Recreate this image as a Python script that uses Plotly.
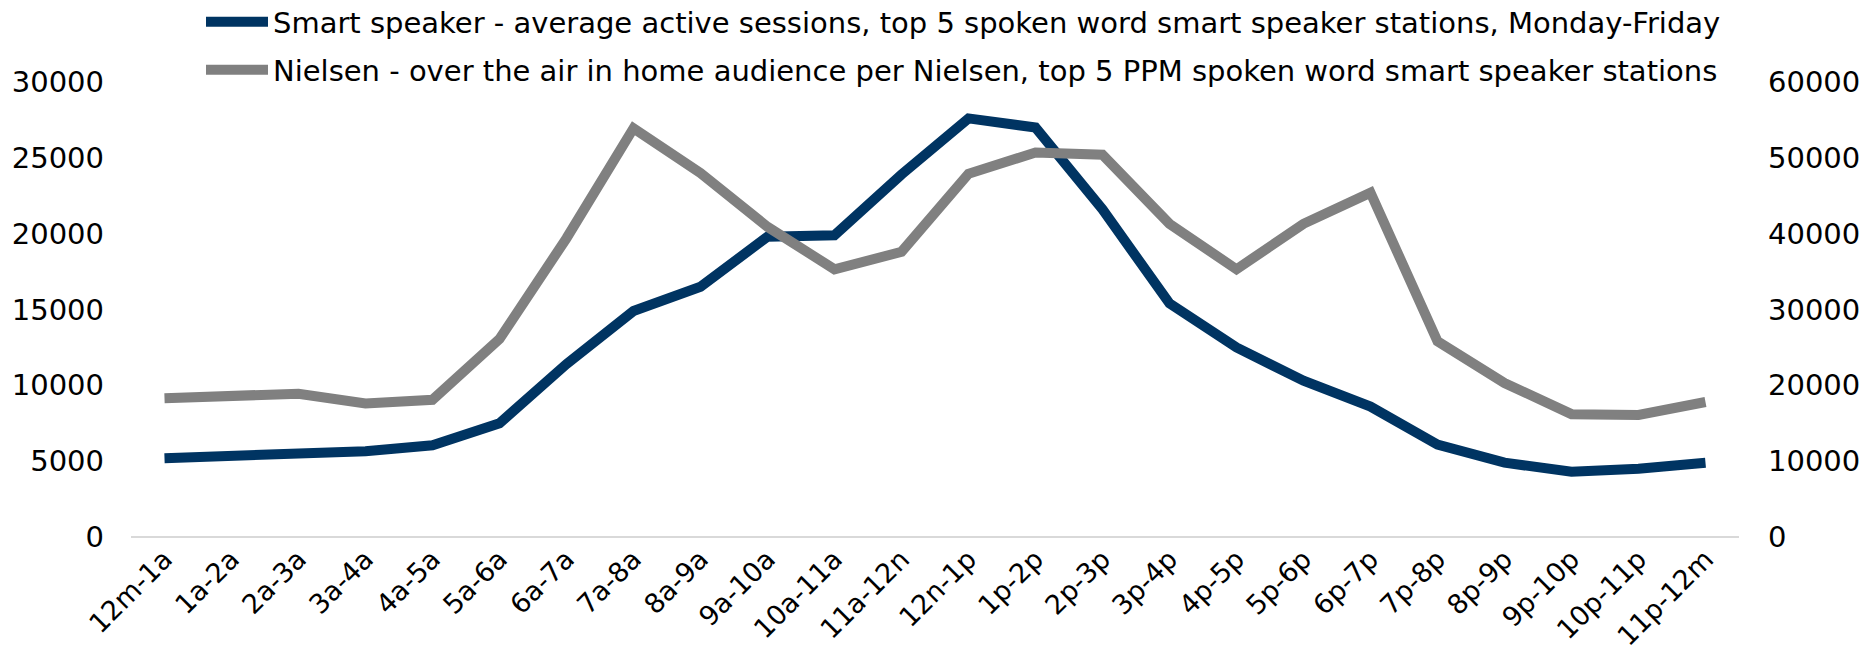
import plotly.graph_objects as go

categories = ["12m-1a", "1a-2a", "2a-3a", "3a-4a", "4a-5a", "5a-6a", "6a-7a", "7a-8a",
              "8a-9a", "9a-10a", "10a-11a", "11a-12n", "12n-1p", "1p-2p", "2p-3p", "3p-4p",
              "4p-5p", "5p-6p", "6p-7p", "7p-8p", "8p-9p", "9p-10p", "10p-11p", "11p-12m"]

smart_speaker = [5200, 5400, 5450, 5650, 6050, 7500, 11400, 14900, 16500, 19800, 19900, 23900,
                 27600, 27000, 21600, 15400, 12500, 10300, 8600, 6100, 4900, 4300, 4500, 4900]

nielsen = [18300, 18700, 18900, 17600, 18100, 26100, 39400, 53900, 48000, 40900, 35300, 37600,
           47900, 50700, 50400, 41300, 35300, 41300, 45400, 25800, 20300, 16200, 16100, 17800]

name_smart = "Smart speaker - average active sessions, top 5 spoken word smart speaker stations, Monday-Friday"
name_nielsen = "Nielsen - over the air in home audience per Nielsen, top 5 PPM spoken word smart speaker stations"

left_ticks = [0, 5000, 10000, 15000, 20000, 25000, 30000]
right_ticks = [0, 10000, 20000, 30000, 40000, 50000, 60000]

NAVY = "#003462"
GRAY = "#808080"
FONT = "DejaVu Sans"

# The page body has an 8px default margin, so the figure is 8px smaller than the window
W, H = 1862, 652

fig = go.Figure()
fig.add_trace(go.Scatter(x=categories, y=smart_speaker, name=name_smart, mode="lines",
                         line=dict(color=NAVY, width=10), yaxis="y", legend="legend"))
fig.add_trace(go.Scatter(x=categories, y=nielsen, name=name_nielsen, mode="lines",
                         line=dict(color=GRAY, width=10), yaxis="y2", legend="legend2"))

legend_common = dict(x=193 / W, xref="container", xanchor="left", yref="container",
                     yanchor="middle", itemwidth=62,
                     font=dict(size=29, family=FONT), bgcolor="rgba(0,0,0,0)")

fig.update_layout(
    width=W, height=H,
    margin=dict(l=123, r=131, t=74, b=123, autoexpand=False),
    paper_bgcolor="white", plot_bgcolor="white",
    font=dict(family=FONT, color="#000000", size=29),
    showlegend=True,
    legend=dict(y=1 - 14 / H, **legend_common),
    legend2=dict(y=1 - 62 / H, **legend_common),
    xaxis=dict(type="category", range=[-0.5, 23.5], tickangle=-45, showgrid=False,
               showline=False, ticks="", tickfont=dict(size=27), ticklabelstandoff=0),
    yaxis=dict(range=[0, 30000], tickvals=left_ticks, ticktext=[str(v) for v in left_ticks],
               showgrid=False, zeroline=True, zerolinecolor="#D9D9D9", zerolinewidth=2,
               ticks="", tickfont=dict(size=29), ticklabelstandoff=26),
    yaxis2=dict(range=[0, 60000], tickvals=right_ticks, ticktext=[str(v) for v in right_ticks],
                overlaying="y", side="right", showgrid=False, zeroline=False,
                ticks="", tickfont=dict(size=29), ticklabelstandoff=28),
)

fig.write_html("out.html")
